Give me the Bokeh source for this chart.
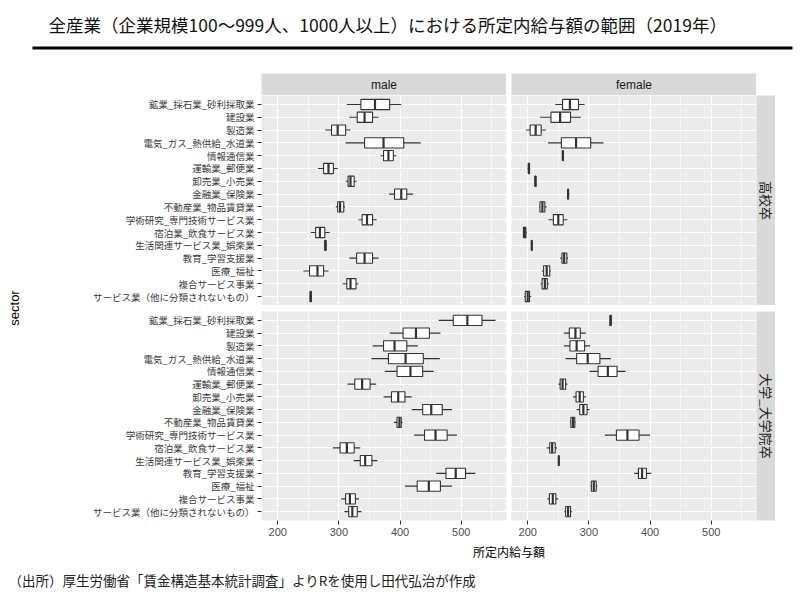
import math
from bokeh.plotting import figure
from bokeh.layouts import column, row
from bokeh.models import (Range1d, FactorRange, FixedTicker, CategoricalTicker, Label,
                          BoxAnnotation, Spacer, ColumnDataSource)
from bokeh.embed import file_html
from bokeh.resources import INLINE

# ---------------- data ----------------
TITLE = "全産業（企業規模100～999人、1000人以上）における所定内給与額の範囲（2019年）"
CAPTION = "（出所）厚生労働省「賃金構造基本統計調査」よりRを使用し田代弘治が作成"
X_TITLE = "所定内給与額"
Y_TITLE = "sector"
SEXES = ["male", "female"]
EDUCATION = ["高校卒", "大学_大学院卒"]
SECTORS = [
    "鉱業_採石業_砂利採取業",
    "建設業",
    "製造業",
    "電気_ガス_熱供給_水道業",
    "情報通信業",
    "運輸業_郵便業",
    "卸売業_小売業",
    "金融業_保険業",
    "不動産業_物品賃貸業",
    "学術研究_専門技術サービス業",
    "宿泊業_飲食サービス業",
    "生活関連サービス業_娯楽業",
    "教育_学習支援業",
    "医療_福祉",
    "複合サービス事業",
    "サービス業（他に分類されないもの）",
]
X_TICKS = [200, 300, 400, 500]
X_MINOR = [250, 350, 450, 550]

# male, 高校卒
MH_LOW = [313, 317, 278, 311, 368, 266, 311, 382, 295, 332, 254, 276, 317, 242, 306, 252]
MH_Q1 = [336, 330, 288, 342, 373, 275, 315, 391, 298, 338, 262, 277, 329, 252, 313, 253]
MH_MED = [359, 342, 298, 373, 381, 283, 319, 402, 302, 346, 269, 278, 342, 265, 319, 254]
MH_Q3 = [383, 355, 311, 406, 389, 291, 325, 411, 308, 355, 277, 279, 355, 275, 328, 255]
MH_HIGH = [402, 365, 319, 434, 394, 298, 329, 421, 310, 362, 285, 280, 365, 283, 332, 256]

# female, 高校卒
FH_LOW = [245, 220, 197, 233, 256.5, 200, 211.5, 264.5, 219, 234, 192.5, 206, 253, 223, 221, 194]
FH_Q1 = [257, 238, 204, 255, 257, 201, 212, 265.5, 220, 242, 193, 206.3, 256, 226, 223.5, 196]
FH_MED = [269, 253, 213, 279, 257.4, 202, 212.6, 266, 224, 250, 195, 206.6, 259.6, 231, 228, 200]
FH_Q3 = [283, 270, 222, 303, 258, 203, 213.5, 266.5, 228, 258, 197, 207, 264, 236, 232, 203]
FH_HIGH = [293, 287, 230, 324, 258.5, 204, 214, 268, 231, 265, 198, 207.3, 266, 238, 235, 205.5]

# male, 大学_大学院卒
MU_LOW = [463, 383, 355, 353, 375, 314, 373, 419, 390, 423, 290, 324, 459, 408, 304, 309]
MU_Q1 = [487, 405, 373, 381, 395, 326, 386, 437, 395, 440, 302, 335, 475, 428, 311, 316]
MU_MED = [510, 426, 391, 409, 417, 338, 397, 451, 399, 458, 313, 343, 491, 447, 318, 322]
MU_Q3 = [534, 448, 411, 438, 437, 351, 408, 469, 402, 477, 325, 354, 507, 466, 327, 330]
MU_HIGH = [556, 466, 429, 465, 455, 361, 419, 485, 404, 493, 335, 363, 523, 485, 333, 337]

# female, 大学_大学院卒
FU_LOW = [334, 259, 259, 262, 301, 250, 274, 280, 269, 326, 231, 250, 374, 303, 232, 260]
FU_Q1 = [334.5, 268, 269, 280, 315, 253, 279, 285, 270.5, 345, 236, 250.5, 381, 304, 235.5, 262]
FU_MED = [335.5, 278, 280, 298, 331, 257, 285, 291, 274, 363, 240, 250.8, 387, 308, 241, 266]
FU_Q3 = [336.5, 286, 293, 318, 346, 262, 291, 297, 277, 382, 245, 251, 394, 312, 246, 270]
FU_HIGH = [337, 295, 302, 336, 360, 265, 295, 301, 278, 400, 248, 251.3, 402, 314, 250, 272]

# ---------------- style ----------------
JP = "'Noto Sans CJK JP', 'Noto Sans', sans-serif"
NUM = "'Liberation Sans Narrow', 'Liberation Sans', Arial, sans-serif"
PANEL_BG = "#EBEBEB"
STRIP_BG = "#D9D9D9"
INK = "#333333"

x_range = Range1d(173.5, 574)
y_range = FactorRange(factors=SECTORS[::-1], range_padding=0.2, range_padding_units="absolute")

YT_W = 30          # column holding the y-axis title
LEFT = 261 - YT_W  # room for category labels
PW = 245
GAP_X = 5
STRIP_W = 19
TOP_H = 210
BOT_H = 209
GAP_Y = 6
XAX_H = 22
HEAD_H = 73
STRIP_H = 22


def panel(low, q1, med, q3, high, show_y, show_x):
    w = (LEFT if show_y else 0) + PW
    h = (BOT_H + XAX_H) if show_x else TOP_H
    p = figure(width=w, height=h, x_range=x_range, y_range=y_range,
               output_backend="svg", toolbar_location=None,
               x_axis_location="below" if show_x else None,
               y_axis_location="left" if show_y else None,
               min_border=0, min_border_left=LEFT if show_y else 0,
               min_border_bottom=XAX_H if show_x else 0,
               background_fill_color=PANEL_BG, border_fill_color="white",
               outline_line_color=None)
    src = ColumnDataSource(dict(sector=SECTORS, low=low, q1=q1, med=med, q3=q3, high=high))
    p.segment(x0="low", x1="high", y0="sector", y1="sector", source=src,
              line_color=INK, line_width=1.1)
    p.hbar(y="sector", left="q1", right="q3", height=0.8, source=src,
           fill_color="white", line_color=INK, line_width=1.1)
    p.hbar(y="sector", left="med", right="med", height=0.8, source=src,
           fill_alpha=0, line_color=INK, line_width=2.2)

    p.xgrid.ticker = FixedTicker(ticks=X_TICKS, minor_ticks=X_MINOR)
    p.xgrid.grid_line_color = "white"
    p.xgrid.grid_line_width = 1.1
    p.xgrid.minor_grid_line_color = "white"
    p.xgrid.minor_grid_line_width = 0.6
    p.ygrid.ticker = CategoricalTicker()
    p.ygrid.grid_line_color = "white"
    p.ygrid.grid_line_width = 1.1

    if show_x:
        ax = p.xaxis[0]
        ax.ticker = FixedTicker(ticks=X_TICKS)
        ax.axis_line_color = None
        ax.major_tick_in = 0
        ax.major_tick_out = 4
        ax.major_tick_line_color = INK
        ax.minor_tick_line_color = None
        ax.major_label_standoff = 3
        ax.major_label_text_font = NUM
        ax.major_label_text_font_size = "11px"
        ax.major_label_text_color = "#4D4D4D"
    if show_y:
        ay = p.yaxis[0]
        ay.axis_line_color = None
        ay.major_tick_in = 0
        ay.major_tick_out = 4
        ay.major_tick_line_color = INK
        ay.major_label_standoff = 3
        ay.major_label_text_font = JP
        ay.major_label_text_font_size = "9.5px"
        ay.major_label_text_color = "#3A3A3A"
    return p


def strip(text, w, h, vertical=False, bottom=0):
    p = figure(width=w, height=h + bottom, x_range=Range1d(0, 1), y_range=Range1d(0, 1),
               output_backend="svg", toolbar_location=None,
               x_axis_location=None, y_axis_location=None,
               min_border=0, min_border_bottom=bottom,
               background_fill_color=STRIP_BG, border_fill_color="white",
               outline_line_color=None)
    p.grid.visible = False
    if vertical:
        lab = Label(x=0.5, y=0.5, text=text, angle=-math.pi / 2, text_align="center",
                    text_baseline="middle", text_font=JP, text_font_size="13px",
                    text_color="#1A1A1A")
    else:
        lab = Label(x=0.5, y=0.5, text=text, text_align="center", text_baseline="middle",
                    text_font=NUM, text_font_size="12px", text_color="#1A1A1A")
    p.add_layout(lab)
    return p


def blank(w, h):
    p = figure(width=w, height=h, x_range=Range1d(0, w), y_range=Range1d(0, h),
               output_backend="svg", toolbar_location=None,
               x_axis_location=None, y_axis_location=None, min_border=0,
               background_fill_color="white", border_fill_color="white",
               outline_line_color=None)
    p.grid.visible = False
    return p


# header
header = blank(800, HEAD_H)
header.add_layout(Label(x=48, y=HEAD_H - 24, text=TITLE, text_font=JP, text_font_size="17.5px",
                        text_baseline="middle", text_color="#111111"))
header.add_layout(BoxAnnotation(left=32, right=792, bottom=HEAD_H - 49, top=HEAD_H - 46,
                                fill_color="black", fill_alpha=1, line_color=None))

strip_row = row(Spacer(width=LEFT, height=STRIP_H), strip(SEXES[0], PW, STRIP_H),
                Spacer(width=GAP_X, height=STRIP_H), strip(SEXES[1], PW, STRIP_H))

tl = panel(MH_LOW, MH_Q1, MH_MED, MH_Q3, MH_HIGH, True, False)
tr = panel(FH_LOW, FH_Q1, FH_MED, FH_Q3, FH_HIGH, False, False)
bl = panel(MU_LOW, MU_Q1, MU_MED, MU_Q3, MU_HIGH, True, True)
br = panel(FU_LOW, FU_Q1, FU_MED, FU_Q3, FU_HIGH, False, True)

top_row = row(tl, Spacer(width=GAP_X, height=TOP_H), tr, strip(EDUCATION[0], STRIP_W, TOP_H, True))
bot_row = row(bl, Spacer(width=GAP_X, height=BOT_H + XAX_H), br,
              strip(EDUCATION[1], STRIP_W, BOT_H, True, bottom=XAX_H))

grid_col = column(strip_row, top_row, Spacer(width=10, height=GAP_Y), bot_row)

# y-axis title column
YT_H = STRIP_H + TOP_H + GAP_Y + BOT_H + XAX_H
ytitle_fig = blank(YT_W, YT_H)
ytitle_fig.add_layout(Label(x=14, y=XAX_H + (TOP_H + GAP_Y + BOT_H) / 2, text=Y_TITLE,
                            angle=math.pi / 2, text_align="center", text_baseline="middle",
                            text_font="'Liberation Sans', Arial, sans-serif",
                            text_font_size="13px", text_color="#000000"))

FOOT_H = 597 - HEAD_H - YT_H
footer = blank(800, FOOT_H)
footer.add_layout(Label(x=261 + (2 * PW + GAP_X) / 2, y=FOOT_H - 9, text=X_TITLE, text_font=JP,
                        text_font_size="12px", text_align="center", text_baseline="middle",
                        text_color="#000000"))
footer.add_layout(Label(x=8, y=FOOT_H - 37, text=CAPTION, text_font=JP, text_font_size="13.5px",
                        text_baseline="middle", text_color="#222222"))

page = column(header, row(ytitle_fig, grid_col), footer)
open("out.html", "w").write(file_html(page, INLINE))
